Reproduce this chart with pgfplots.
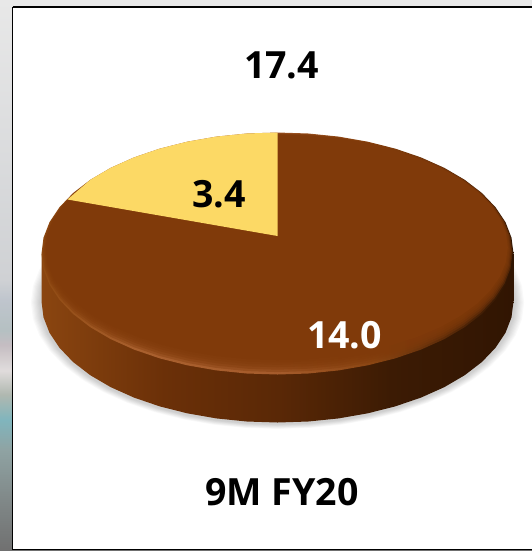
\documentclass[border=0pt]{standalone}
\usepackage{pgfplots}
\pgfplotsset{compat=1.18}
\usepackage{pgfplotstable}
\usepackage{fontspec}
\setmainfont{Open Sans}

\definecolor{pieBrown}{HTML}{803A0A}
\definecolor{pieYellow}{HTML}{FCD965}
\definecolor{wA}{HTML}{8A4510}
\definecolor{wB}{HTML}{6B3008}
\definecolor{wC}{HTML}{5A2806}
\definecolor{wD}{HTML}{3C1B04}
\definecolor{wE}{HTML}{311502}
\definecolor{rA}{HTML}{8F4A12}
\definecolor{rB}{HTML}{A9602E}
\definecolor{rC}{HTML}{A65C2C}
\definecolor{rD}{HTML}{8A4512}
\definecolor{rE}{HTML}{5A2A08}
\definecolor{rF}{HTML}{2E1503}
\definecolor{sA}{HTML}{E8E8E8}
\definecolor{sB}{HTML}{CFD1D4}
\definecolor{sC}{HTML}{BFC5CD}
\definecolor{sD}{HTML}{B5C0C2}
\definecolor{sE}{HTML}{C5BDC2}
\definecolor{sF}{HTML}{E0DCDC}
\definecolor{sG}{HTML}{B0B8B0}
\definecolor{sH}{HTML}{80B5BD}
\definecolor{sI}{HTML}{8FA3A3}
\definecolor{sJ}{HTML}{808888}
\definecolor{sK}{HTML}{707070}

% Side wall, dark towards the right
\pgfdeclarehorizontalshading{wallshade}{100bp}{
  color(0bp)=(wA); color(25bp)=(wA);
  color(38bp)=(wB); color(50bp)=(wC);
  color(62bp)=(wD); color(75bp)=(wE); color(100bp)=(wE)}
% Bevel band round the top face
\pgfdeclarehorizontalshading{rimshade}{100bp}{
  color(0bp)=(rA); color(25bp)=(rA);
  color(35bp)=(rB); color(50bp)=(rC);
  color(60bp)=(rD); color(68bp)=(rE);
  color(75bp)=(rF); color(100bp)=(rF)}
% Backdrop at the left edge and along the top
\pgfdeclareverticalshading{stripshade}{100bp}{
  color(0bp)=(sK); color(25bp)=(sK); color(29.6bp)=(sJ); color(34.2bp)=(sI);
  color(36.9bp)=(sH); color(39.2bp)=(sG); color(41.4bp)=(sF); color(43.7bp)=(sE);
  color(45bp)=(sD); color(47.8bp)=(sC); color(49.6bp)=(sB);
  color(75bp)=(sA); color(100bp)=(sA)}

% Outline of the top face
\pgfplotstableread{
x y
513.5 253.5
511.5 237.7
505.5 222.2
495.5 207.2
481.9 193.0
464.7 179.8
444.4 167.9
421.2 157.5
395.5 148.7
367.8 141.7
338.6 136.6
308.3 133.5
277.5 132.5
246.7 133.5
216.4 136.6
187.2 141.7
159.5 148.7
133.8 157.5
110.6 167.9
90.3 179.8
73.1 193.0
59.5 207.2
49.5 222.2
43.5 237.7
41.5 253.5
43.5 269.3
49.5 284.8
59.5 299.8
73.1 314.0
90.3 327.2
110.6 339.1
133.8 349.5
159.5 358.3
187.2 365.3
216.4 370.4
246.7 373.5
277.5 374.5
308.3 373.5
338.6 370.4
367.8 365.3
395.5 358.3
421.2 349.5
444.4 339.1
464.7 327.2
481.9 314.0
495.5 299.8
505.5 284.8
511.5 269.3
513.5 253.5
}\faceoutline

% Outer outline of the side wall
\pgfplotstableread{
x y
41.5 253.5
41.5 301.5
43.5 317.3
49.5 332.8
59.5 347.8
73.1 362.0
90.3 375.2
110.6 387.1
133.8 397.5
159.5 406.3
187.2 413.3
216.4 418.4
246.7 421.5
277.5 422.5
308.3 421.5
338.6 418.4
367.8 413.3
395.5 406.3
421.2 397.5
444.4 387.1
464.7 375.2
481.9 362.0
495.5 347.8
505.5 332.8
511.5 317.3
513.5 301.5
513.5 253.5
}\walloutline

% The 3.4 slice
\pgfplotstableread{
x y
277.5 236.0
277.5 132.5
246.7 133.5
216.4 136.6
187.2 141.7
159.5 148.7
133.8 157.5
110.6 167.9
90.3 179.8
67.5 199.5
277.5 236.0
}\smallslice

\begin{document}
\begin{tikzpicture}
\begin{axis}[
  anchor=origin, at={(0,0)},
  width=532pt, height=551pt, scale only axis,
  xmin=0, xmax=532, ymin=0, ymax=551, y dir=reverse,
  hide axis, clip=true,
  every axis plot/.append style={draw=none},
]
  % backdrop and white panel
  \addplot[shading=stripshade, forget plot] coordinates {(0,0) (532,0) (532,551) (0,551) (0,0)};
  \addplot[fill=white, draw=black, line width=1.6pt, forget plot]
    coordinates {(12.5,7) (540,7) (540,549.5) (12.5,549.5) (12.5,7)};

  % soft shadow beneath the disc
  \pgfplotsinvokeforeach{1.045,1.04,1.035,1.03,1.025,1.02,1.015,1.01}{
    \addplot[fill=black, fill opacity=0.022, forget plot] table[
      x expr={277.5+(\thisrow{x}-277.5)*#1},
      y expr={302.5+(\thisrow{y}-253.5)*#1}] {\faceoutline};
  }

  % side wall
  \addplot[shading=wallshade, forget plot] table {\walloutline};

  % bevel band, then the top face fading in over it
  \addplot[shading=rimshade, forget plot] table {\faceoutline};
  \pgfplotsinvokeforeach{1,2,3,4,5}{
    \addplot[fill=pieBrown, fill opacity=0.4, forget plot] table[
      x expr={277.5+(\thisrow{x}-277.5)*(1-0.004*#1)},
      y expr={(253.5-#1)+(\thisrow{y}-253.5)*(1-0.0116*#1)}] {\faceoutline};
  }
  \addplot[fill=pieBrown, forget plot] table[
      x expr={277.5+(\thisrow{x}-277.5)*0.976},
      y expr={247.5+(\thisrow{y}-253.5)*0.93}] {\faceoutline};

  % the smaller slice
  \addplot[fill=pieYellow, forget plot] table {\smallslice};

  % labels
  \node[anchor=base, font=\fontsize{37.5}{37.5}\selectfont\bfseries, text=black]
    at (axis cs:281.5,78.5) {17.4};
  \node[anchor=base, font=\fontsize{37.5}{37.5}\selectfont\bfseries, text=black]
    at (axis cs:219,207) {3.4};
  \node[anchor=base, font=\fontsize{37.5}{37.5}\selectfont\bfseries, text=white]
    at (axis cs:344.5,348.5) {14.0};
  \node[anchor=base, font=\fontsize{37.5}{37.5}\selectfont\bfseries, text=black]
    at (axis cs:282,505) {9M FY20};
\end{axis}
\end{tikzpicture}
\end{document}
